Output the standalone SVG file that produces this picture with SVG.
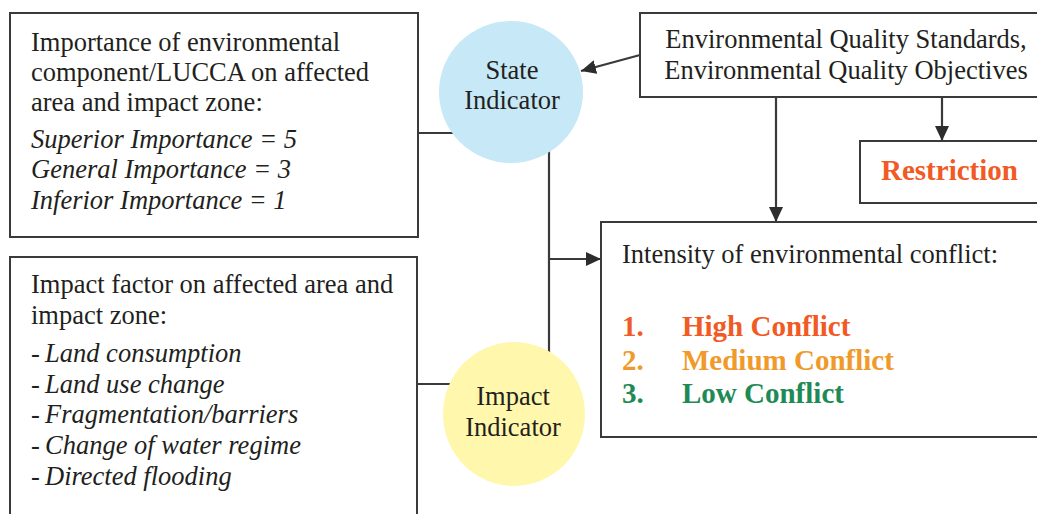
<svg xmlns="http://www.w3.org/2000/svg" width="1037" height="514" viewBox="0 0 1037 514">
<style>
.box{fill:#fff;stroke:#3a3a3a;stroke-width:2}
.t{font-family:"Liberation Serif",serif;font-size:26.5px;fill:#231f20}
.i{font-style:italic}
.b{font-weight:bold;font-size:29px}
.c{text-anchor:middle}
.ln{stroke:#3a3a3a;stroke-width:2.2;fill:none}
</style>
<defs>
<marker id="ah" markerUnits="userSpaceOnUse" markerWidth="16" markerHeight="14" refX="15" refY="7" orient="auto">
<path d="M0,0 L15,7 L0,14 z" fill="#2d2d2d"/>
</marker>
</defs>
<rect width="1037" height="514" fill="#fff"/>
<g id="connectors">
<line class="ln" x1="418" y1="133" x2="480" y2="133"/>
<line class="ln" x1="417" y1="384" x2="480" y2="384"/>
<line class="ln" x1="549" y1="120" x2="549" y2="380"/>
<line class="ln" x1="549" y1="259" x2="601" y2="259" marker-end="url(#ah)"/>
<line class="ln" x1="640" y1="55" x2="581" y2="71" marker-end="url(#ah)"/>
<line class="ln" x1="776" y1="97" x2="776" y2="222" marker-end="url(#ah)"/>
<line class="ln" x1="942" y1="97" x2="942" y2="141" marker-end="url(#ah)"/>
</g>
<g id="importance">
<rect class="box" x="10" y="13" width="408" height="224"/>
<text class="t" x="31" y="51">Importance of environmental</text>
<text class="t" x="31" y="81">component/LUCCA on affected</text>
<text class="t" x="31" y="111">area and impact zone:</text>
<text class="t i" x="31" y="148">Superior Importance = 5</text>
<text class="t i" x="31" y="178">General Importance = 3</text>
<text class="t i" x="31" y="209">Inferior Importance = 1</text>
</g>
<g id="impact-factor">
<rect class="box" x="10" y="257" width="407" height="270"/>
<text class="t" x="31" y="293">Impact factor on affected area and</text>
<text class="t" x="31" y="324">impact zone:</text>
<text class="t" x="31" y="362">- <tspan class="i" x="45">Land consumption</tspan></text>
<text class="t" x="31" y="393">- <tspan class="i" x="45">Land use change</tspan></text>
<text class="t" x="31" y="423">- <tspan class="i" x="45">Fragmentation/barriers</tspan></text>
<text class="t" x="31" y="454">- <tspan class="i" x="45">Change of water regime</tspan></text>
<text class="t" x="31" y="485">- <tspan class="i" x="45">Directed flooding</tspan></text>
</g>
<g id="state-indicator">
<ellipse cx="511" cy="92" rx="72" ry="71" fill="#c6e8f7"/>
<text class="t c" x="512" y="79">State</text>
<text class="t c" x="512" y="109">Indicator</text>
</g>
<g id="impact-indicator">
<ellipse cx="514" cy="414" rx="71" ry="72" fill="#fff7ab"/>
<text class="t c" x="513" y="405">Impact</text>
<text class="t c" x="513" y="436">Indicator</text>
</g>
<g id="standards">
<rect class="box" x="640" y="13" width="410" height="84"/>
<text class="t c" x="846" y="48">Environmental Quality Standards,</text>
<text class="t c" x="846" y="79">Environmental Quality Objectives</text>
</g>
<g id="restriction">
<rect class="box" x="860" y="141" width="190" height="62"/>
<text class="t b" x="881" y="180" style="fill:#f15a24">Restriction</text>
</g>
<g id="intensity">
<rect class="box" x="601" y="222" width="450" height="215"/>
<text class="t" x="622" y="263">Intensity of environmental conflict:</text>
<text class="t b" x="622" y="336" style="fill:#f15a24">1.</text>
<text class="t b" x="682" y="336" style="fill:#f15a24">High Conflict</text>
<text class="t b" x="622" y="370" style="fill:#ef9a2a">2.</text>
<text class="t b" x="682" y="370" style="fill:#ef9a2a">Medium Conflict</text>
<text class="t b" x="622" y="403" style="fill:#1e8a55">3.</text>
<text class="t b" x="682" y="403" style="fill:#1e8a55">Low Conflict</text>
</g>
</svg>
